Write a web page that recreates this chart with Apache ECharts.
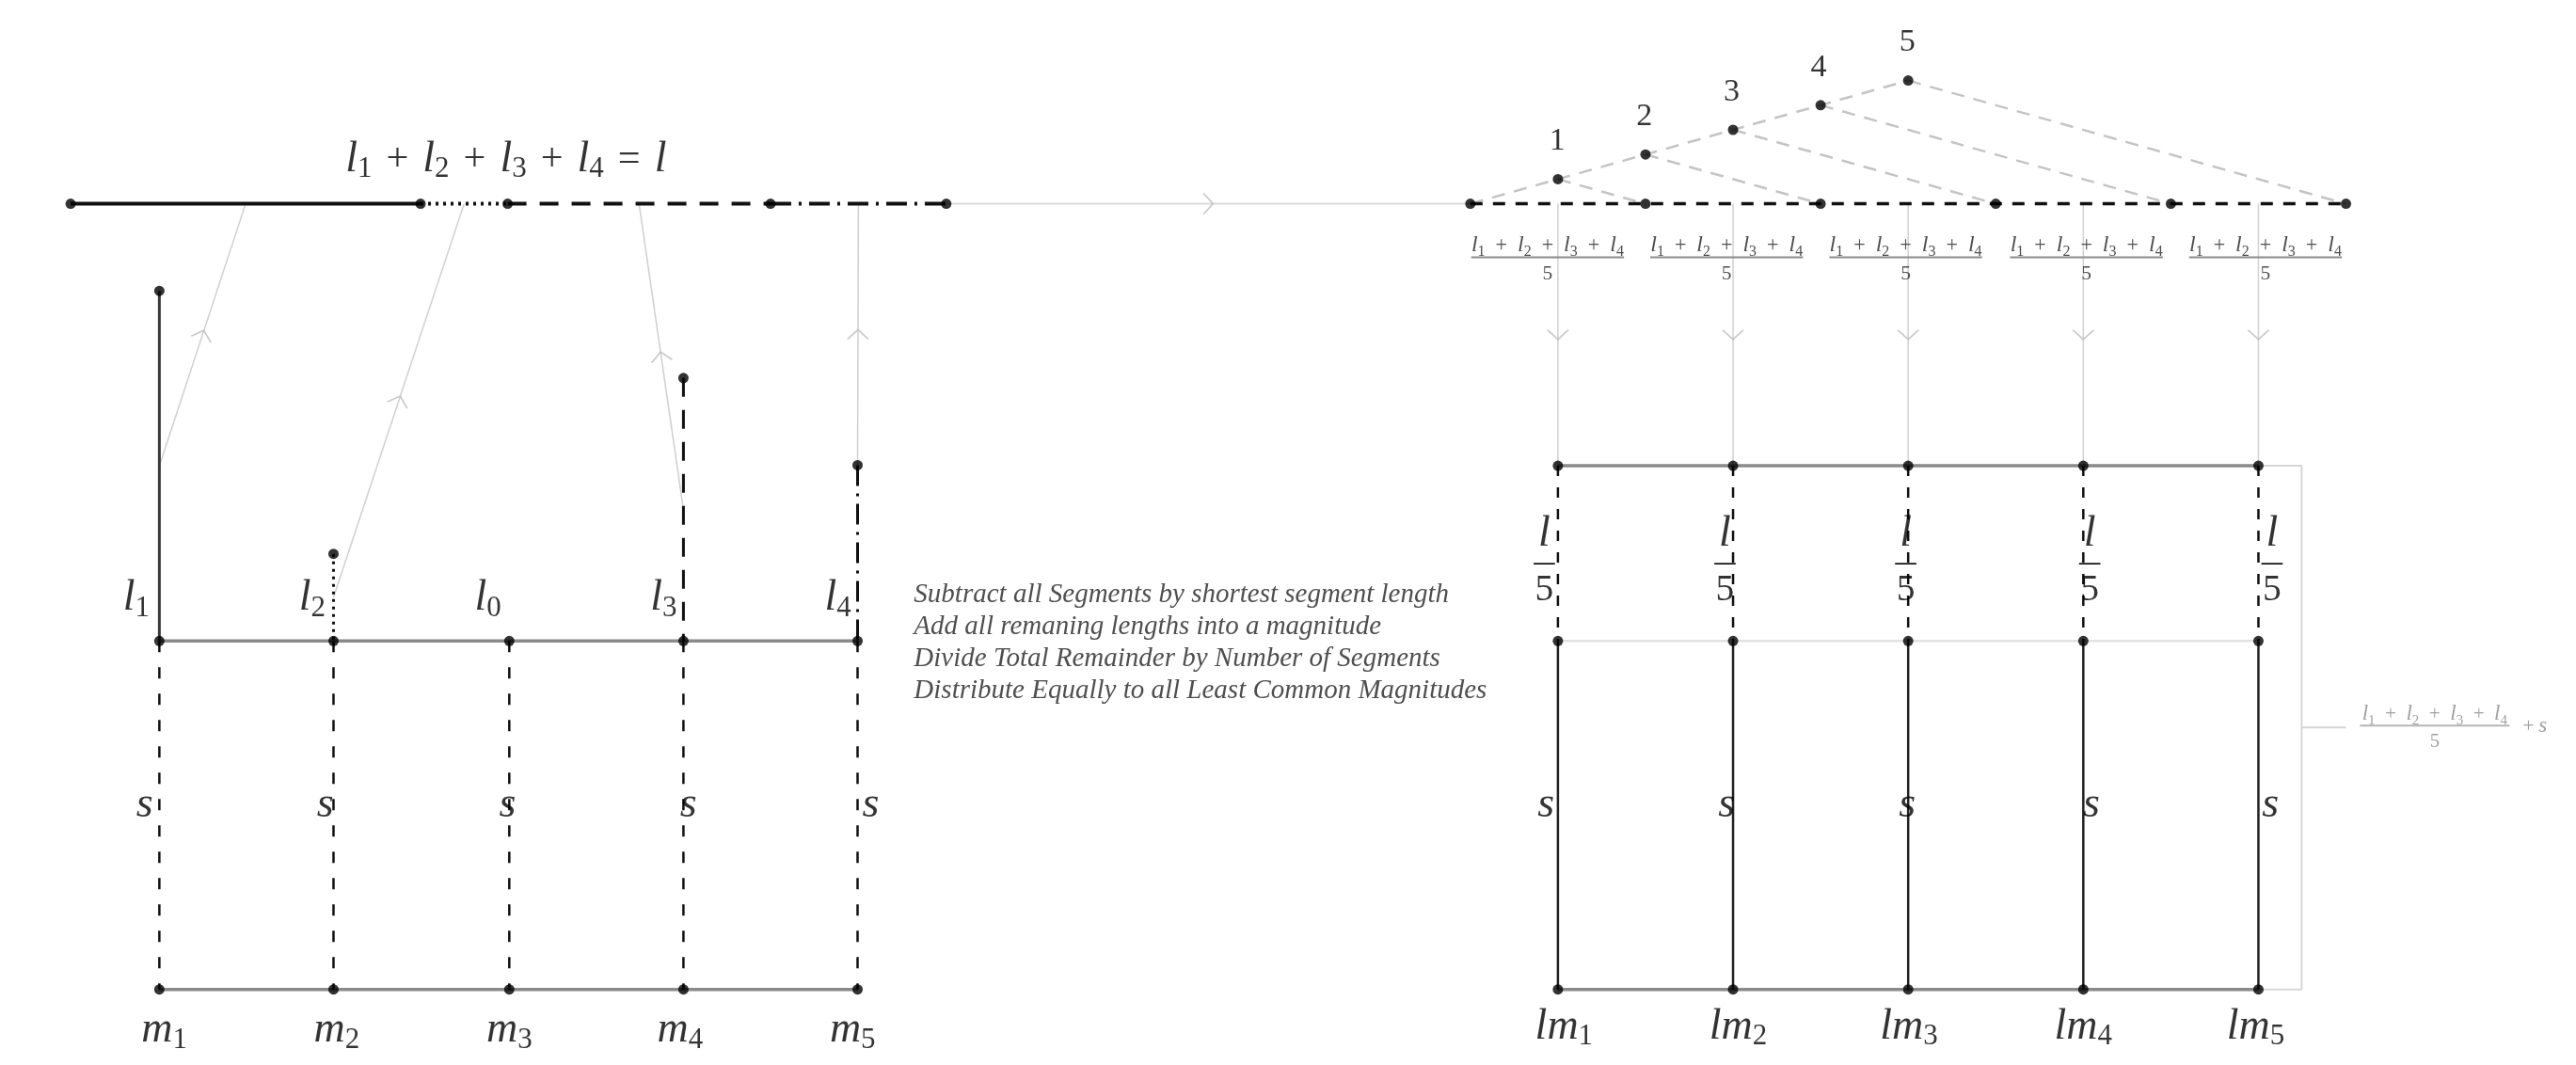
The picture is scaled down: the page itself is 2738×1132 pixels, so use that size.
<!DOCTYPE html>
<html>
<head>
<meta charset="utf-8">
<title>Least common magnitudes</title>
<script src="https://cdn.jsdelivr.net/npm/echarts@6/dist/echarts.min.js"></script>
<style>
  html, body { margin: 0; padding: 0; background: #fff; }
  #chart { width: 2738px; height: 1132px; }
</style>
</head>
<body>
<div id="chart"></div>
<script>
// drawing units = the picture at 1568 x 648, y grows downwards

// segment lengths l1..l4 and the common part s
var segLen = [213, 53, 160, 107];
var segStyle = ['solid', 'dotted', 'dashed', 'dashdot'];
var sLen = 212;
var segNames = ['1', '2', '3', '4'];

// left construction
var lineStartX = 43;
var topY = 124;
var baseY = 390;
var leftX = [97, 203, 310, 416, 522];       // columns l1 l2 l0 l3 l4 / m1..m5
var barCol = [0, 1, 3, 4];                   // column each segment stands on
var connFrac = [0.5, 0.5, 0.5, 1];           // where the grey link leaves the bar
var colNames = ['1', '2', '0', '3', '4'];
var mNames = ['1', '2', '3', '4', '5'];

// right construction
var splitStartX = 895;
var parts = 5;
var apexY = [109, 94, 79, 64, 49];
var stepNames = ['1', '2', '3', '4', '5'];
var bracketX = 1401;
var tickX = 1428;

// label anchors
var titlePos = [308, 97];
var lLabelPos = [[83, 364], [190, 364], [297, 364], [404, 364], [510, 364]];
var sLeftPos = [[88, 490], [198, 490], [309, 490], [419, 490], [530, 490]];
var mPos = [[100, 627], [205, 627], [310, 627], [414, 627], [519, 627]];
var stepLabelPos = [[948, 86], [1001, 71], [1054, 56], [1107, 41], [1161, 26]];
var fracX = [942, 1051, 1160, 1270, 1379];
var fracBarY = 156.5;
var lFifthX = [940, 1050, 1160, 1272, 1383];
var lFifthBarY = 343;
var sRightPos = [[941, 490], [1051, 490], [1161, 490], [1273, 490], [1382, 490]];
var lmPos = [[952, 625], [1058, 625], [1162, 625], [1268, 625], [1373, 625]];
var bracketFrac = [1482, 441.5];
var plusSPos = [1543, 442];
var notesPos = [556, 391];
var notes = [
  'Subtract all Segments by shortest segment length',
  'Add all remaning lengths into a magnitude',
  'Divide Total Remainder by Number of Segments',
  'Distribute Equally to all Least Common Magnitudes'
];

var FONT = '"Liberation Serif", "DejaVu Serif", serif';
var INK = '#000';
var DASH = {solid: 'solid', dotted: [3, 5], dashed: [20, 14], dashdot: [22, 8, 3, 8]};

var series = [];

function seg(pts, color, width, type, z) {
    series.push({
        type: 'line', data: pts, symbol: 'none', silent: true, animation: false,
        z: z || 2,
        lineStyle: {color: color, width: width, type: type || 'solid', cap: 'butt'}
    });
}

var arrows = [];
function arrowAt(a, b) {
    var dx = b[0] - a[0], dy = b[1] - a[1];
    arrows.push({
        value: [(a[0] + b[0]) / 2, (a[1] + b[1]) / 2],
        symbolRotate: Math.atan2(-dx, -dy) * 180 / Math.PI
    });
}

var dots = [];

// ---- left: the four segments laid end to end
var topX = [lineStartX];
segLen.forEach(function (len, i) { topX.push(topX[i] + len); });
segLen.forEach(function (len, i) {
    seg([[topX[i], topY], [topX[i + 1], topY]], '#111', 4, DASH[segStyle[i]], 4);
});
topX.forEach(function (x) { dots.push([x, topY]); });

// long grey link over to the right
seg([[topX[4], topY], [splitStartX, topY]], '#dadada', 2);
arrowAt([topX[4], topY], [splitStartX, topY]);

// the bars standing on the base line, and grey links up to the segments
segLen.forEach(function (len, i) {
    var cx = leftX[barCol[i]];
    seg([[cx, baseY - len], [cx, baseY]], i === 0 ? '#3a3a3a' : '#111', 3, DASH[segStyle[i]], 3);
    dots.push([cx, baseY - len]);
    var from = [cx, baseY - len * connFrac[i]];
    var to = [(topX[i] + topX[i + 1]) / 2, topY];
    seg([from, to], '#cfcfcf', 1.5, 'solid', 1);
    arrowAt(from, to);
});

var bottomY = baseY + sLen;
seg([[leftX[0], baseY], [leftX[4], baseY]], '#8a8a8a', 3.5);
seg([[leftX[0], bottomY], [leftX[4], bottomY]], '#8a8a8a', 3.5);
leftX.forEach(function (x) {
    seg([[x, baseY], [x, bottomY]], '#111', 2.5, [12, 16], 3);
    dots.push([x, baseY], [x, bottomY]);
});

// ---- right: total split into five equal parts
var total = segLen.reduce(function (a, b) { return a + b; }, 0);
var part = total / parts;
var splitX = [];
for (var k = 0; k <= parts; k++) splitX.push(splitStartX + k * part);
var rightX = splitX.slice(0, parts).map(function (x) { return x + part / 2; });
var rTopY = baseY - part;

seg([[splitX[0], topY], [splitX[parts], topY]], '#111', 3.5, [13, 11], 4);
splitX.forEach(function (x) { dots.push([x, topY]); });

var apex = apexY.map(function (y, i) { return [splitX[0] + (i + 1) * part / 2, y]; });
seg([[splitX[0], topY]].concat(apex), '#c4c4c4', 2.5, [14, 10]);
apex.forEach(function (p, i) {
    seg([p, [splitX[i + 1], topY]], '#c4c4c4', 2.5, [14, 10]);
    dots.push(p);
});

rightX.forEach(function (x) {
    seg([[x, topY], [x, rTopY]], '#d2d2d2', 1.5, 'solid', 1);
    arrowAt([x, topY], [x, rTopY]);
    seg([[x, rTopY], [x, baseY]], '#111', 2.5, [11, 12], 3);
    seg([[x, baseY], [x, bottomY]], '#222', 2.5, 'solid', 3);
    dots.push([x, rTopY], [x, baseY], [x, bottomY]);
});
seg([[rightX[0], rTopY], [rightX[4], rTopY]], '#8a8a8a', 3.5);
seg([[rightX[0], baseY], [rightX[4], baseY]], '#e2e2e2', 2.5);
seg([[rightX[0], bottomY], [rightX[4], bottomY]], '#8a8a8a', 3.5);

// bracket round l/5 + s
seg([[rightX[4], rTopY], [bracketX, rTopY], [bracketX, bottomY], [rightX[4], bottomY]], '#d6d6d6', 2, 'solid', 1);
seg([[bracketX, (rTopY + bottomY) / 2], [tickX, (rTopY + bottomY) / 2]], '#d6d6d6', 2, 'solid', 1);

// fraction bars
var smallHalf = 46.5, fifthHalf = 6.5;
fracX.forEach(function (x) { seg([[x - smallHalf, fracBarY], [x + smallHalf, fracBarY]], '#8c8c8c', 2, 'solid', 5); });
lFifthX.forEach(function (x) { seg([[x - fifthHalf, lFifthBarY], [x + fifthHalf, lFifthBarY]], '#000', 1.6, 'solid', 5); });
seg([[bracketFrac[0] - smallHalf + 1, bracketFrac[1]], [bracketFrac[0] + smallHalf - 1, bracketFrac[1]]], '#b5b5b5', 2, 'solid', 5);

series.push({
    type: 'scatter', symbol: 'circle', symbolSize: 11, silent: true, animation: false, z: 10,
    itemStyle: {color: '#000'}, data: dots
});

series.push({
    type: 'scatter', symbol: 'path://M0,11L12,0L24,11', symbolSize: [22, 10],
    silent: true, animation: false, z: 6,
    itemStyle: {color: 'none', borderColor: '#bdbdbd', borderWidth: 1.5},
    data: arrows
});

// ---- text
function mathRich(size, subSize, color, spSize) {
    return {
        i: {fontFamily: FONT, fontStyle: 'italic', fontSize: size, lineHeight: size + 6, color: color},
        o: {fontFamily: FONT, fontSize: size * 0.92, lineHeight: size + 6, color: color},
        sp: {fontFamily: FONT, fontSize: spSize, lineHeight: 4, color: color},
        n: {fontFamily: FONT, fontSize: size * 0.9, lineHeight: size + 4, color: color},
        sub: {fontFamily: FONT, fontSize: subSize, lineHeight: subSize, verticalAlign: 'bottom', color: color}
    };
}
function sym(letter, idx) { return '{i|' + letter + '}{sub|' + idx + '}'; }
function op(c) { return '{sp| }{o|' + c + '}{sp| }'; }
var sumText = segNames.map(function (n) { return sym('l', n); }).join(op('+'));

function labels(items, rich, position, extra) {
    var label = {
        show: true, position: position || 'inside', distance: 0,
        color: INK, textBorderWidth: 0, rich: rich,
        formatter: function (p) { return p.data.text; }
    };
    for (var key in extra) label[key] = extra[key];
    series.push({
        type: 'scatter', symbolSize: 1, silent: true, animation: false, z: 20,
        itemStyle: {color: 'rgba(0,0,0,0)'}, label: label,
        data: items.map(function (it) { return {value: it[0], text: it[1]}; })
    });
}

var big = mathRich(46, 31, INK, 60);
labels([[titlePos, sumText + op('=') + '{i|l}']], big);
labels(lLabelPos.map(function (p, i) { return [p, sym('l', colNames[i])]; }), big);
labels(sLeftPos.map(function (p) { return [p, '{i|s}']; }), big);
labels(mPos.map(function (p, i) { return [p, sym('m', mNames[i])]; }), big);
labels(sRightPos.map(function (p) { return [p, '{i|s}']; }), big);
labels(lmPos.map(function (p, i) { return [p, sym('lm', mNames[i])]; }), big);

labels(lFifthX.map(function (x) { return [[x, lFifthBarY - 18], '{i|l}']; }), big);
labels(lFifthX.map(function (x) { return [[x, lFifthBarY + 16], '{n|5}']; }), mathRich(44, 30, INK, 40));

labels(stepLabelPos.map(function (p, i) { return [p, '{n|' + stepNames[i] + '}']; }), mathRich(38, 26, INK, 40));

var small = mathRich(24, 16, '#222', 44);
labels(fracX.map(function (x) { return [[x, fracBarY - 7], sumText]; }), small);
labels(fracX.map(function (x) { return [[x, fracBarY + 10], '{n|5}']; }), small);

var grey = mathRich(23, 15, '#8a8a8a', 42);
labels([[[bracketFrac[0], bracketFrac[1] - 7], sumText]], grey);
labels([[[bracketFrac[0], bracketFrac[1] + 10], '{n|5}']], grey);
labels([[plusSPos, '{o|+}{sp| }{i|s}']], mathRich(23, 15, '#8a8a8a', 20));

labels([[notesPos, notes.join('\n')]], {}, 'right', {
    fontFamily: FONT, fontStyle: 'italic', fontSize: 29, lineHeight: 34, color: '#222', align: 'left'
});

var chart = echarts.init(document.getElementById('chart'));
chart.setOption({
    animation: false,
    grid: {left: 0, right: 0, top: 0, bottom: 0},
    xAxis: {type: 'value', min: 0, max: 1568, show: false},
    yAxis: {type: 'value', min: 0, max: 648, inverse: true, show: false},
    series: series
});
</script>
</body>
</html>
